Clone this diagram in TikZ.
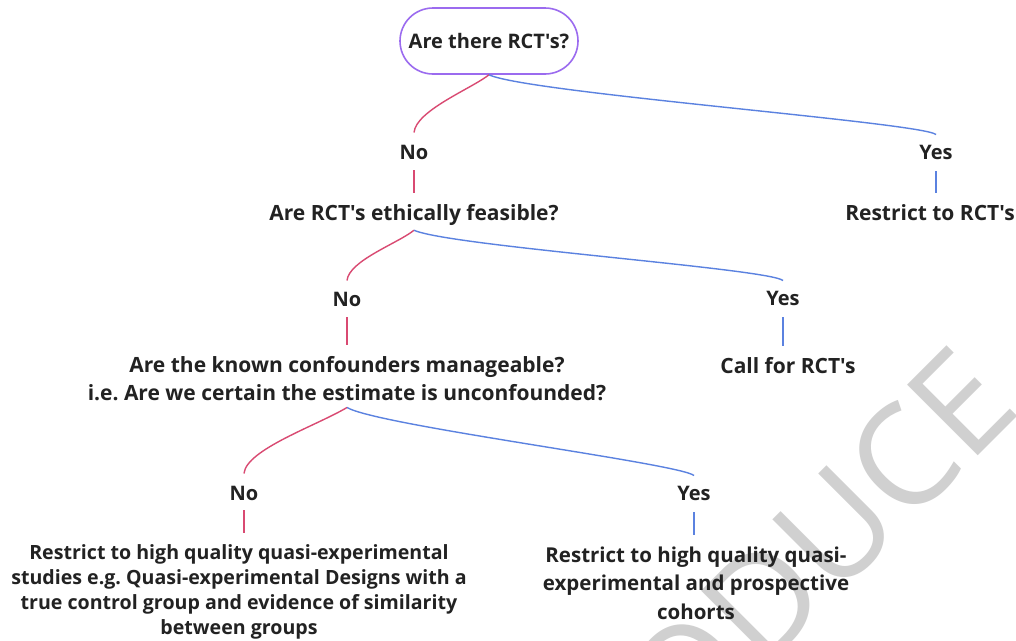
\documentclass[tikz,border=0pt]{standalone}
\usepackage{fontspec}
\setmainfont{Open Sans}[Ligatures=TeXOff]
\definecolor{ink}{HTML}{222222}
\definecolor{pillc}{HTML}{9B6BEF}
\definecolor{redc}{HTML}{D94A72}
\definecolor{bluec}{HTML}{5B82E0}
\definecolor{wmc}{HTML}{D0D0D0}
\begin{document}
\begin{tikzpicture}[x=1pt,y=-1pt,
  txt/.style={font=\bfseries\fontsize{20}{28}\selectfont, text=ink, inner sep=0pt, align=center, anchor=base},
  big/.style={font=\bfseries\fontsize{21}{28}\selectfont},
  pill/.style={draw=pillc, line width=1.6pt, rounded corners=33pt, minimum width=178pt, minimum height=66pt, inner sep=0pt, fill=white, text=ink, font=\bfseries\fontsize{20}{28}\selectfont},
  nolink/.style={draw=redc, line width=1.4pt},
  yeslink/.style={draw=bluec, line width=1.4pt},
]
\useasboundingbox (0,0) rectangle (1016,640);
\fill[white] (0,0) rectangle (1016,640);
% watermark
\begin{scope}
\clip (0,0) rectangle (1016,640);
\node[font=\fontsize{140}{140}\selectfont, text=wmc, rotate=45, anchor=base east, inner sep=0pt] (wm) at (1024,410) {REPRODUCE};
\end{scope}
% nodes
\node[pill] (q1) at (489,41) {Are there RCT's?};
\node[txt] (no1) at (414,159) {No};
\node[txt] (yes1) at (936,159) {Yes};
\node[txt, big] (q2) at (414,220) {Are RCT's ethically feasible?};
\node[txt, big] (r1) at (930,220) {Restrict to RCT's};
\node[txt] (no2) at (347,306) {No};
\node[txt] (yes2) at (783,305) {Yes};
\node[txt, big] (q3) at (347,400) {Are the known confounders manageable?\\ i.e.\ Are we certain the estimate is unconfounded?};
\node[txt, big] (call) at (788,373) {Call for RCT's};
\node[txt] (no3) at (244,500) {No};
\node[txt] (yes3) at (694,500) {Yes};
\node[txt, font=\bfseries\fontsize{19.6}{25}\selectfont] (lb) at (239,634) {Restrict to high quality quasi-experimental\\ studies e.g.\ Quasi-experimental Designs with a\\ true control group and evidence of similarity\\ between groups};
\node[txt, font=\bfseries\fontsize{20.5}{28.5}\selectfont] (rb) at (696,619) {Restrict to high quality quasi-\\ experimental and prospective\\ cohorts};
% level 1
\draw[nolink] (q1.south) .. controls +(-18,14) and +(2,-22) .. ([yshift=12pt]no1.north);
\draw[yeslink] (q1.south) .. controls +(38,18) and +(-14,-12) .. ([yshift=10pt]yes1.north);
\draw[nolink] ([yshift=-11pt]no1.south) -- ([yshift=11pt]no1.south |- q2.north);
\draw[yeslink] ([yshift=-12pt]yes1.south) -- ([yshift=11pt]yes1.south |- r1.north);
% level 2
\draw[nolink] ([yshift=-5pt]q2.south) .. controls +(-16,13) and +(2,-20) .. ([yshift=11pt]no2.north);
\draw[yeslink] ([yshift=-5pt]q2.south) .. controls +(36,16) and +(-14,-12) .. ([yshift=10pt]yes2.north);
\draw[nolink] ([yshift=-11pt]no2.south) -- ([yshift=11pt]no2.south |- q3.north);
\draw[yeslink] ([yshift=-12pt]yes2.south) -- ([yshift=11pt]yes2.south |- call.north);
% level 3
\draw[nolink] ([yshift=-7pt]q3.south) .. controls +(-30,18) and +(2,-24) .. ([yshift=12pt]no3.north);
\draw[yeslink] ([yshift=-7pt]q3.south) .. controls +(30,18) and +(-14,-12) .. ([yshift=10pt]yes3.north);
\draw[nolink] ([yshift=-10pt]no3.south) -- ([yshift=11pt]no3.south |- lb.north);
\draw[yeslink] ([yshift=-12pt]yes3.south) -- ([yshift=11pt]yes3.south |- rb.north);
\end{tikzpicture}
\end{document}
